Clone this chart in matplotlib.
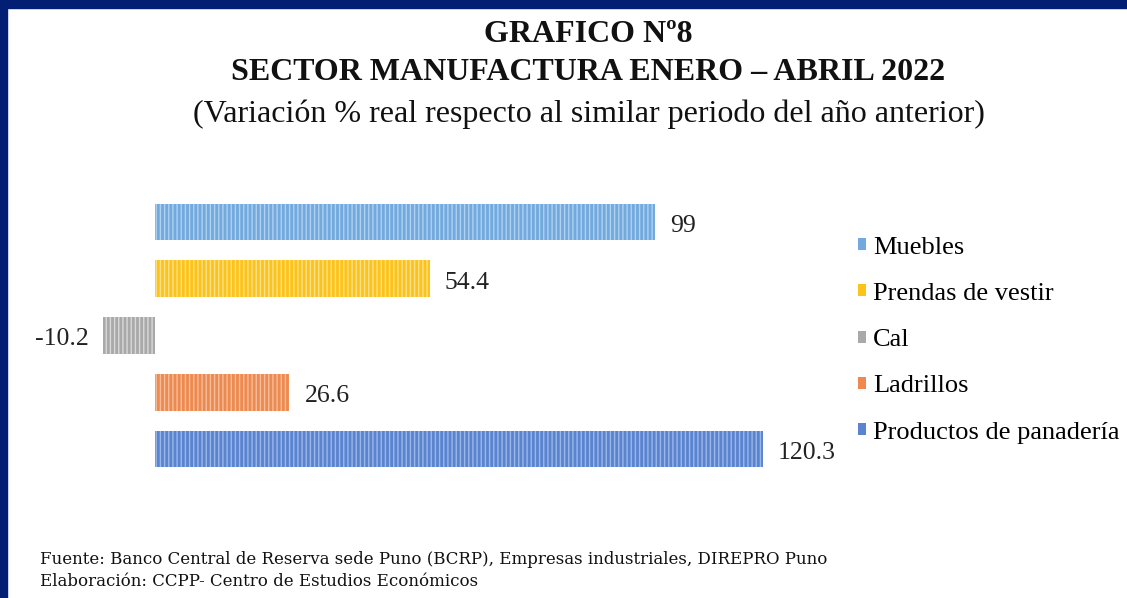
import matplotlib.pyplot as plt
import matplotlib as mpl
from matplotlib.patches import Rectangle

mpl.rcParams['font.family'] = ['Liberation Serif', 'DejaVu Serif']
mpl.rcParams['hatch.linewidth'] = 1.0

# data
categories = ['Muebles', 'Prendas de vestir', 'Cal', 'Ladrillos', 'Productos de panadería']
values = [99, 54.4, -10.2, 26.6, 120.3]
value_labels = ['99', '54.4', '-10.2', '26.6', '120.3']
colors = ['#72a9de', '#fcc41a', '#a9a9a9', '#ec8a4f', '#5a84cf']
stripe_colors = ['#b0d1ef', '#fde08a', '#d9d9d9', '#f6bd9c', '#9bb7e8']

W, H = 1127, 598
fig = plt.figure(figsize=(W / 100, H / 100), dpi=100)
fig.patch.set_facecolor('white')

# dark blue frame (top and left)
fig.patches.append(Rectangle((0, 1 - 8 / H), 1, 8 / H, transform=fig.transFigure,
                             color='#021f73', zorder=0))
fig.patches.append(Rectangle((0, 0), 7 / W, 1, transform=fig.transFigure,
                             color='#021f73', zorder=0))

# axes placed in pixel terms
px_unit = 5.05
xmin, xmax = -15, 125
left_px = 155 + xmin * px_unit
width_px = (xmax - xmin) * px_unit
step = 56.75
top_px = 222 - step / 2
height_px = step * len(categories)
ax = fig.add_axes([left_px / W, 1 - (top_px + height_px) / H, width_px / W, height_px / H])

ypos = list(range(len(categories)))
handles = []
for y, v, c, sc, lab in zip(ypos, values, colors, stripe_colors, categories):
    b = ax.barh(y, v, height=0.65, color=c, edgecolor=sc, hatch='||||', linewidth=0,
                label=lab)
    handles.append(b)

for y, v, t in zip(ypos, values, value_labels):
    if v >= 0:
        ax.text(v + 3, y + 0.07, t, ha='left', va='center', fontsize=18.5, color='#222222')
    else:
        ax.text(v - 3, y + 0.07, t, ha='right', va='center', fontsize=18.5, color='#222222')

ax.set_xlim(xmin, xmax)
ax.set_ylim(len(categories) - 0.5, -0.5)
ax.axis('off')

leg = fig.legend(handles=handles, labels=categories, loc='upper left',
                 bbox_to_anchor=(847 / W, 1 - 226 / H), frameon=False,
                 fontsize=19, handlelength=0.33, handleheight=0.33,
                 handletextpad=0.25, labelspacing=0.92, borderaxespad=0)
for h in leg.legend_handles:
    h.set_hatch(None)

# titles
fig.text(0.5 + 25 / W, 1 - 34 / H, 'GRAFICO Nº8', ha='center', va='center',
         fontsize=23, fontweight='bold', color='#111111')
fig.text(0.5 + 25 / W, 1 - 73 / H, 'SECTOR MANUFACTURA ENERO – ABRIL 2022', ha='center',
         va='center', fontsize=23, fontweight='bold', color='#111111')
fig.text(0.5 + 25 / W, 1 - 114 / H,
         '(Variación % real respecto al similar periodo del año anterior)',
         ha='center', va='center', fontsize=23, color='#111111')

# footer
fig.text(40 / W, 1 - 559 / H,
         'Fuente: Banco Central de Reserva sede Puno (BCRP), Empresas industriales, DIREPRO Puno',
         ha='left', va='center', fontsize=12, color='#111111', family='DejaVu Serif')
fig.text(40 / W, 1 - 582 / H, 'Elaboración: CCPP- Centro de Estudios Económicos',
         ha='left', va='center', fontsize=12, color='#111111', family='DejaVu Serif')

fig.savefig('out.png', dpi=100)
